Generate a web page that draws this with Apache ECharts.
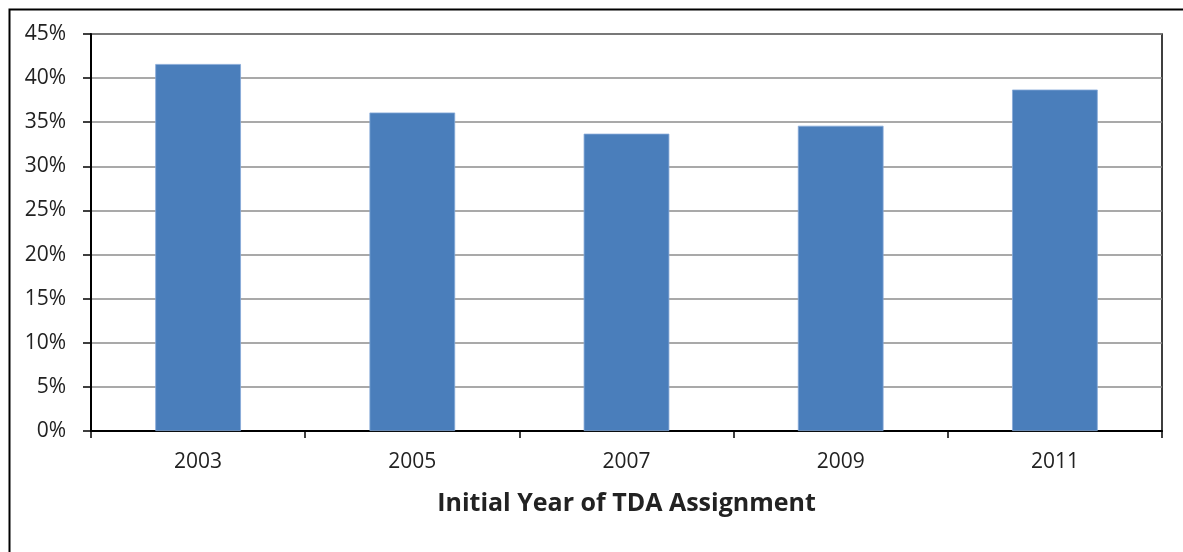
<!DOCTYPE html>
<html>
<head>
<meta charset="utf-8">
<script src="https://cdn.jsdelivr.net/npm/echarts@6/dist/echarts.min.js"></script>
<style>
  html, body { margin: 0; padding: 0; background: #fff; }
  #chart { width: 1183px; height: 552px; }
</style>
</head>
<body>
<div id="chart"></div>
<script>
// Share of cases by initial year of TDA assignment
const years = ['2003', '2005', '2007', '2009', '2011'];
const shares = [41.6, 36.1, 33.7, 34.6, 38.7];
const yTicks = { min: 0, max: 45, interval: 5 };
const xTitle = 'Initial Year of TDA Assignment';

const font = '"Open Sans", "Liberation Sans", sans-serif';
const chart = echarts.init(document.getElementById('chart'), null, { renderer: 'canvas' });

chart.setOption({
  animation: false,
  backgroundColor: '#ffffff',
  graphic: [{
    type: 'rect',
    left: 7, top: 7,
    shape: { x: 0, y: 0, width: 1300, height: 700 },
    style: { fill: 'none', stroke: '#000', lineWidth: 2 },
    silent: true
  }],
  grid: {
    left: 91, right: 21, top: 34, bottom: 121,
    show: true, borderColor: '#000', borderWidth: 1.5, backgroundColor: 'transparent'
  },
  xAxis: {
    type: 'category',
    data: years,
    boundaryGap: true,
    axisLine: { lineStyle: { color: '#000', width: 2 } },
    axisTick: { show: true, length: 7, lineStyle: { color: '#000', width: 1.5 } },
    axisLabel: { color: '#222', fontFamily: font, fontSize: 21, margin: 21 },
    name: xTitle,
    nameLocation: 'middle',
    nameGap: 60,
    nameTextStyle: { color: '#222', fontFamily: font, fontSize: 25, fontWeight: 'bold' }
  },
  yAxis: {
    type: 'value',
    min: yTicks.min, max: yTicks.max, interval: yTicks.interval,
    axisLine: { show: true, lineStyle: { color: '#000', width: 2 } },
    axisTick: { show: true, length: 8, lineStyle: { color: '#000', width: 1.5 } },
    axisLabel: { color: '#222', fontFamily: font, fontSize: 21, margin: 25, formatter: v => v + '%' },
    splitLine: { show: true, lineStyle: { color: '#8c8c8c', width: 1.5 } }
  },
  series: [{
    type: 'bar',
    data: shares,
    barWidth: '40%',
    itemStyle: { color: '#4a7ebb', borderColor: '#86a9d8', borderWidth: 0.8 }
  }]
});
</script>
</body>
</html>
